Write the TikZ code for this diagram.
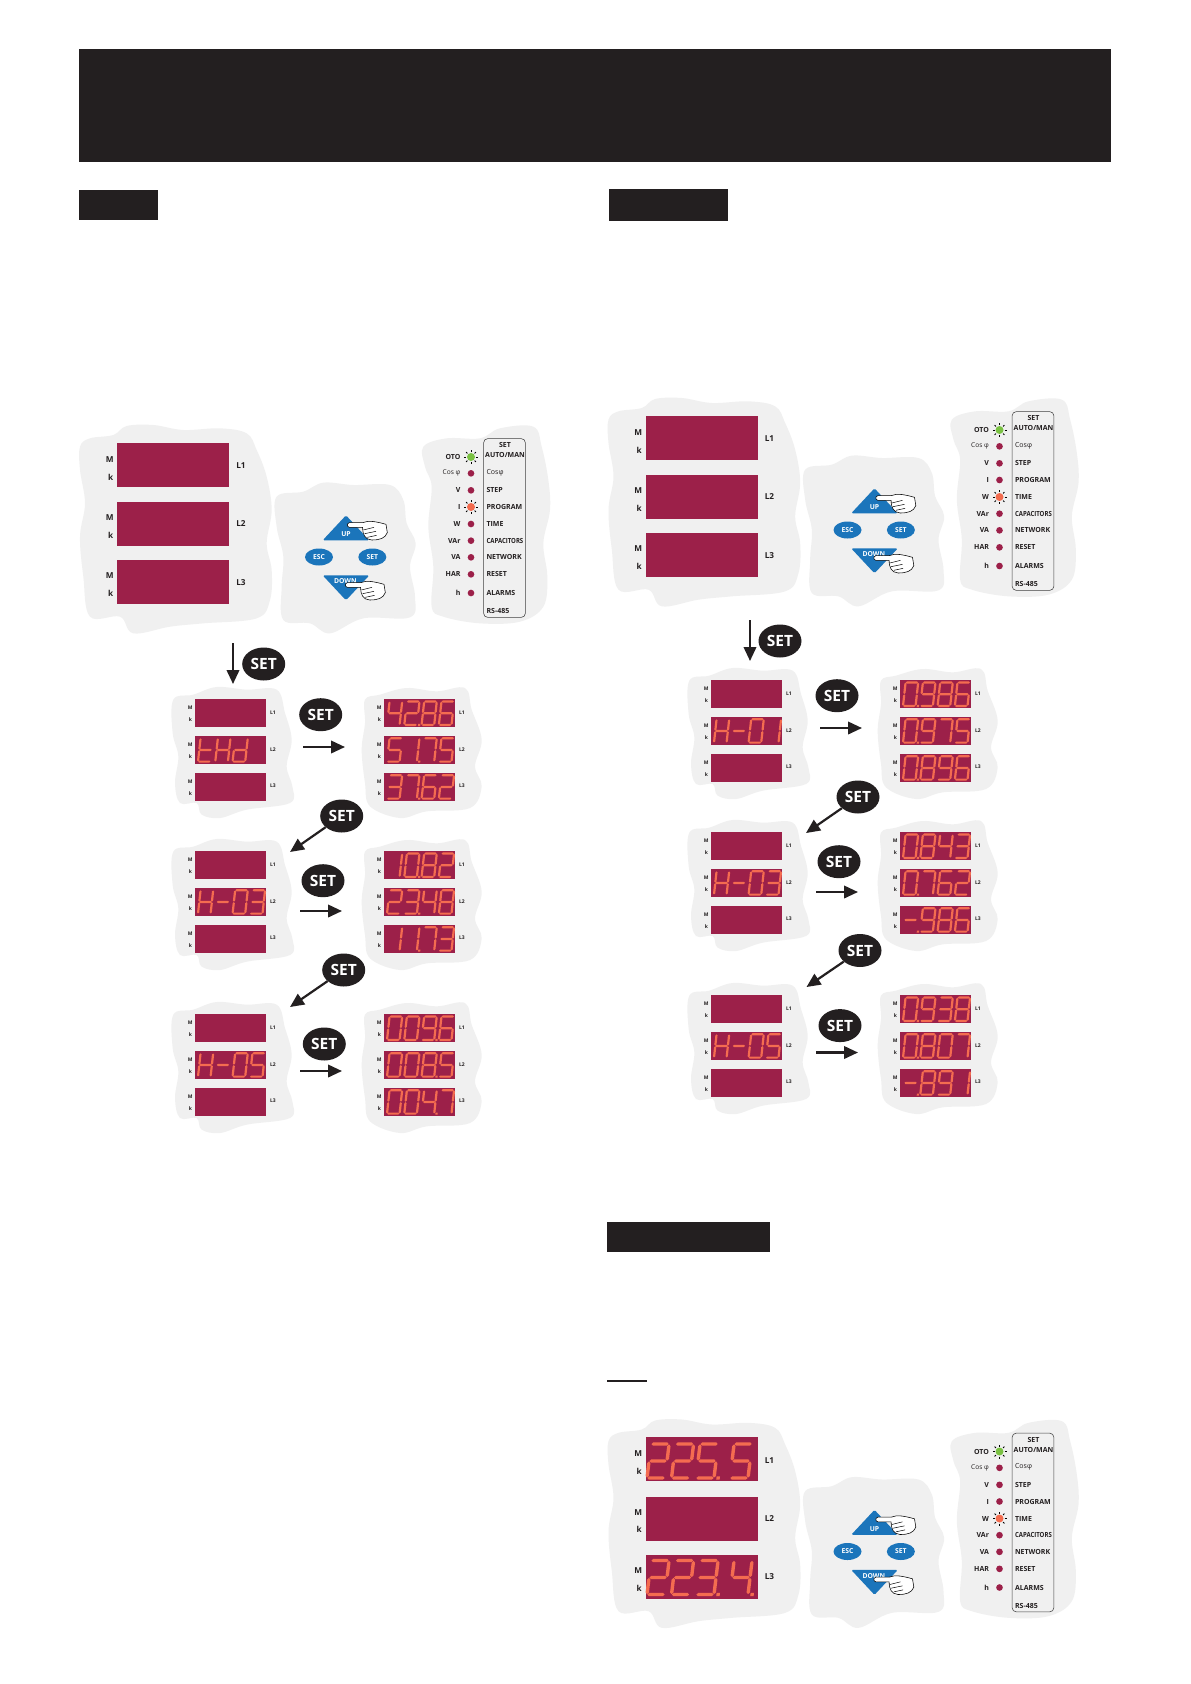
\documentclass[tikz,border=0pt]{standalone}
\usepackage{fontspec}
\setmainfont{Open Sans}
\newfontfamily\narrowlab[FakeStretch=0.86]{Open Sans}
\usetikzlibrary{shapes.geometric,arrows.meta}
\definecolor{blobgrey}{HTML}{F0F0F0}
\definecolor{crim}{HTML}{9C2049}
\definecolor{sevenseg}{HTML}{F46C50}
\definecolor{ink}{HTML}{231F20}
\definecolor{btnblue}{HTML}{1B75BB}
\definecolor{ledgreen}{HTML}{7AC143}
\definecolor{ledred}{HTML}{F26B4E}
\tikzset{
  blob/.style={fill=blobgrey},
  bar/.style={fill=ink,draw=none,inner sep=0pt,anchor=north west},
  dispbig/.style={fill=crim,draw=none,inner sep=0pt,anchor=north west,minimum width=112pt,minimum height=44pt},
  dispsmall/.style={fill=crim,draw=none,inner sep=0pt,anchor=north west,minimum width=71pt,minimum height=27.8pt},
  segfill/.style={fill=sevenseg,draw=none},
  setoval/.style={ellipse,fill=ink,text=white,inner sep=0pt,minimum width=43pt,minimum height=33pt,font=\fontsize{15.5}{16}\selectfont\bfseries},
  btn/.style={ellipse,fill=btnblue,text=white,inner sep=0pt,minimum width=28pt,minimum height=17pt,font=\fontsize{6.8}{7}\selectfont\bfseries},
  btnlab/.style={text=white,inner sep=0pt,font=\fontsize{6.8}{7}\selectfont\bfseries},
  biglab/.style={text=ink,inner sep=0pt,font=\fontsize{8.2}{9}\selectfont\bfseries},
  lab/.style={text=ink,inner sep=0pt,font=\fontsize{7}{8}\selectfont\bfseries},
  tinylab/.style={text=ink,inner sep=0pt,font=\fontsize{5}{5}\selectfont\bfseries},
  arr/.style={draw=ink,line width=2.2pt,-{Triangle[length=14pt,width=12.5pt]}},
  handfill/.style={fill=white,draw=black,line width=0.55pt,line join=round},
}
% seven segment drawing
\newcommand\hsg[3]{\fill[segfill] (#1+\sgG,#3) -- (#1+\sgG+\sgTh,#3-\sgTh) -- (#2-\sgG-\sgTh,#3-\sgTh) -- (#2-\sgG,#3) -- (#2-\sgG-\sgTh,#3+\sgTh) -- (#1+\sgG+\sgTh,#3+\sgTh) -- cycle;}
\newcommand\vsg[3]{\fill[segfill] (#1,#2+\sgG) -- (#1+\sgTh,#2+\sgG+\sgTh) -- (#1+\sgTh,#3-\sgG-\sgTh) -- (#1,#3-\sgG) -- (#1-\sgTh,#3-\sgG-\sgTh) -- (#1-\sgTh,#2+\sgG+\sgTh) -- cycle;}
\newcommand\sega{\hsg{0}{\sgW}{-\sgH}}
\newcommand\segg{\hsg{0}{\sgW}{-\sgM}}
\newcommand\segd{\hsg{0}{\sgW}{0}}
\newcommand\segf{\vsg{0}{-\sgH}{-\sgM}}
\newcommand\segb{\vsg{\sgW}{-\sgH}{-\sgM}}
\newcommand\sege{\vsg{0}{-\sgM}{0}}
\newcommand\segc{\vsg{\sgW}{-\sgM}{0}}
\newcommand\segnone{}
\newcommand\defdg[2]{\expandafter\def\csname dg#1\endcsname{#2}}
\defdg{0}{a,b,c,d,e,f}\defdg{1}{b,c}\defdg{2}{a,b,g,e,d}\defdg{3}{a,b,g,c,d}
\defdg{4}{f,g,b,c}\defdg{5}{a,f,g,c,d}\defdg{6}{a,f,g,e,c,d}\defdg{7}{a,b,c}
\defdg{8}{a,b,c,d,e,f,g}\defdg{9}{a,b,c,d,f,g}\defdg{-}{g}\defdg{H}{b,c,e,f,g}
\defdg{t}{f,e,g,d}\defdg{d}{b,c,d,e,g}\defdg{sp}{none}
% #1 x start, #2 baseline, #3 pitch, #4 list digit/dot
\newcommand\sevtext[4]{%
  \foreach \cc/\pp [count=\ii from 0] in {#4}{%
    \begin{scope}[shift={({#1+\ii*#3},#2)},xslant=\sgS]
      \edef\seglist{\csname dg\cc\endcsname}%
      \foreach \ss in \seglist {\csname seg\ss\endcsname}%
      \ifnum\pp=1 \fill[segfill] (\sgW+\sgD,\sgTh) rectangle (\sgW+\sgD+2*\sgTh,-\sgTh); \fi
    \end{scope}%
  }%
}
\newcommand\smallsegs{\def\sgW{12.6}\def\sgH{23.4}\def\sgM{11.7}\def\sgTh{1.1}\def\sgG{0.2}\def\sgS{0.11}\def\sgD{1.2}}
\newcommand\bigsegs{\def\sgW{18}\def\sgH{34}\def\sgM{17}\def\sgTh{1.7}\def\sgG{0.4}\def\sgS{0.12}\def\sgD{2.4}}
% big display panel
\newcommand\bigpanel[5]{%
\begin{scope}[shift={(70+#2,410+#3)},scale=1/3]
 \fill[blob] plot[smooth cycle,tension=0.6] coordinates {(30,110)(60,85)(130,75)(170,48)(250,45)(340,60)(450,55)(530,70)(560,120)(590,200)(605,300)(590,400)(605,480)(600,570)(560,625)(400,640)(300,650)(190,670)(150,620)(60,620)(40,500)(30,380)(45,280)(30,180)};
 \fill[blob] plot[smooth cycle,tension=0.6] coordinates {(620,260)(700,245)(760,218)(850,225)(960,225)(1000,270)(1010,340)(1037,400)(1020,470)(1035,560)(1020,622)(880,625)(780,670)(720,640)(640,630)(635,530)(640,440)(620,350)};
 \fill[blob] plot[smooth cycle,tension=0.6] coordinates {(1060,110)(1130,85)(1230,85)(1290,55)(1390,50)(1415,110)(1435,210)(1440,300)(1420,400)(1432,500)(1420,590)(1350,635)(1230,640)(1120,620)(1085,590)(1090,470)(1075,350)(1085,230)(1065,170)};
 \node[dispbig] (#1-d1) at (141,98) {};
 \node[dispbig] (#1-d2) at (141,276) {};
 \node[dispbig] (#1-d3) at (141,450) {};
 \foreach \mm/\kk/\ll/\ee/\nn in {148/201/167/L1/1,323/376/342/L2/2,498/551/517/L3/3}{
  \node[biglab] (#1-m\nn) at (119,\mm) {M};
  \node[biglab] (#1-k\nn) at (122,\kk) {k};
  \node[biglab] (#1-l\nn) at (513,\ll) {\ee};
 }
 \fill[btnblue,rounded corners=1.5pt] (758,391) -- (828,316) -- (898,391) -- cycle;
 \fill[btnblue,rounded corners=1.5pt] (758,496) -- (898,496) -- (828,571) -- cycle;
 \node[btn] (#1-esc) at (747,441) {ESC};
 \node[btn] (#1-set) at (907,441) {SET};
 \node[btnlab] (#1-up) at (828,373) {UP};
 \node[btnlab] (#1-down) at (826,514) {DOWN};
 \handshape{0}{0}\handshape{-6}{180}
 \draw[draw=black!75,line width=0.55pt,rounded corners=4pt] (1241,86) rectangle (1366,622);
 \foreach \lbl/\yy/\knd [count=\ii] in {OTO/141/1,{\fontsize{6.6}{7}\selectfont\mdseries Cos φ}/190/0,V/241/0,I/291/#4,W/342/#5,VAr/392/0,VA/442/0,HAR/493/0,h/549/0}{
  \node[lab,anchor=east] (#1-n\ii) at (1172,\yy) {\lbl};
  \ifnum\knd=0
    \fill[crim] (1203,\yy) circle[radius=10];
  \else
    \ifnum\knd=1 \fill[ledgreen] (1203,\yy) circle[radius=12];
    \else \fill[ledred] (1203,\yy) circle[radius=12]; \fi
    \foreach \aa in {0,45,...,315}{\draw[black,line width=0.8pt] (1203,\yy) ++(\aa:15) -- ++(\aa:6);}
  \fi
 }
 \node[lab] (#1-t0) at (1305,106) {SET};
 \node[lab] (#1-t1) at (1305,136) {AUTO/MAN};
 \node[lab,anchor=west,font=\fontsize{7}{8}\selectfont\mdseries] (#1-t2) at (1249,187) {Cosφ};
 \foreach \lbl/\yy [count=\ii from 3] in {STEP/241,PROGRAM/291,TIME/342,{\narrowlab CAPACITORS}/392,NETWORK/442,RESET/493,ALARMS/549,RS-485/604}{
  \node[lab,anchor=west] (#1-t\ii) at (1249,\yy) {\lbl};
 }
\end{scope}}
\newcommand\handshape[2]{%
 \begin{scope}[shift={(#1,#2)}]
 \filldraw[handfill] (838,338) -- (878,338) .. controls (895,330) and (920,335) .. (948,343) -- (952,368) .. controls (945,385) and (930,390) .. (905,390) .. controls (885,388) and (878,375) .. (878,352) -- (838,352) .. controls (830,350) and (830,340) .. (838,338) -- cycle;
 \draw[black,line width=0.5pt] (880,360) -- (912,352) (884,371) -- (918,364) (892,382) -- (920,376);
 \end{scope}}
% small panel: type, x, y, name, three lists
\newcommand\smallblobA{\fill[blob] plot[smooth cycle,tension=0.6] coordinates {(40,180)(100,165)(170,142)(260,150)(350,150)(375,220)(395,300)(380,380)(397,440)(390,490)(260,510)(180,535)(125,525)(110,490)(60,490)(45,430)(55,350)(38,280)};}
\newcommand\smallblobB{\fill[blob] plot[smooth cycle,tension=0.6] coordinates {(48,180)(93,165)(173,145)(263,155)(348,145)(368,210)(398,300)(378,380)(398,440)(363,505)(233,515)(153,535)(63,500)(48,430)(38,330)(48,250)};}
\newcommand\smallpanel[7]{%
\begin{scope}[shift={({#2-35},{#3-59.33})},scale=1/3]
 \csname smallblob#1\endcsname
\end{scope}
\node[dispsmall] (#4-d1) at (#2,#3) {};
\node[dispsmall] (#4-d2) at (#2,#3+36.7) {};
\node[dispsmall] (#4-d3) at (#2,#3+73.7) {};
\foreach \rr/\oo in {1/0,2/36.7,3/73.7}{
 \node[tinylab] (#4-m\rr) at (#2-4.7,#3+\oo+9) {M};
 \node[tinylab] (#4-k\rr) at (#2-4.7,#3+\oo+20.6) {k};
 \node[tinylab] (#4-l\rr) at (#2+78,#3+\oo+13.5) {L\rr};
}
\smallsegs
\sevtext{#2+3}{#3+25.9}{17.3}{#5}
\sevtext{#2+3}{#3+36.7+25.9}{17.3}{#6}
\sevtext{#2+3}{#3+73.7+25.9}{17.3}{#7}
}
\begin{document}
\begin{tikzpicture}[x=1pt,y=-1pt]
\path[use as bounding box,fill=white] (0,0) rectangle (1191,1684);
% header and section bars
\node[bar,minimum width=1032.5pt,minimum height=113pt] (hdr) at (78.5,49) {};
\node[bar,minimum width=79.5pt,minimum height=30pt] (b1) at (78.5,190) {};
\node[bar,minimum width=119pt,minimum height=32pt] (b2) at (609,189) {};
\node[bar,minimum width=163pt,minimum height=30pt] (b3) at (607,1222) {};
\coordinate (ula) at (607,1381);
\coordinate (ulb) at (646.5,1381);
\draw[ink,line width=1.1pt] (ula) -- (ulb);
% big panels
\bigpanel{p1}{0}{0}{2}{0}
\bigpanel{p2}{528.5}{-27}{0}{2}
\bigpanel{p3}{528.5}{994.5}{0}{2}
\bigsegs
\sevtext{647}{1478}{24.5}{2/0,2/0,5/1}
\sevtext{730}{1478}{24.5}{5/0}
\sevtext{647}{1594.5}{24.5}{2/0,2/0,3/1}
\sevtext{730}{1594.5}{24.5}{4/1}
% left column
\smallpanel{A}{195}{699}{a1}{sp/0}{t/0,H/0,d/0}{sp/0}
\smallpanel{B}{384}{699}{a2}{4/0,2/1,8/0,6/0}{5/0,1/1,7/0,5/0}{3/0,7/1,6/0,2/0}
\smallpanel{A}{195}{851}{a3}{sp/0}{H/0,-/0,0/0,3/0}{sp/0}
\smallpanel{B}{384}{851}{a4}{1/0,0/1,8/0,2/0}{2/0,3/1,4/0,8/0}{1/0,1/1,7/0,3/0}
\smallpanel{A}{195}{1014}{a5}{sp/0}{H/0,-/0,0/0,5/0}{sp/0}
\smallpanel{B}{384}{1014}{a6}{0/0,0/0,9/1,6/0}{0/0,0/0,8/1,5/0}{0/0,0/0,4/1,7/0}
% right column
\smallpanel{A}{711}{680}{c1}{sp/0}{H/0,-/0,0/0,1/0}{sp/0}
\smallpanel{B}{900}{680}{c2}{0/1,9/0,8/0,6/0}{0/1,9/0,7/0,5/0}{0/1,8/0,9/0,6/0}
\smallpanel{A}{711}{832}{c3}{sp/0}{H/0,-/0,0/0,3/0}{sp/0}
\smallpanel{B}{900}{832}{c4}{0/1,8/0,4/0,3/0}{0/1,7/0,6/0,2/0}{-/1,9/0,8/0,6/0}
\smallpanel{A}{711}{995}{c5}{sp/0}{H/0,-/0,0/0,5/0}{sp/0}
\smallpanel{B}{900}{995}{c6}{0/1,9/0,3/0,8/0}{0/1,8/0,0/0,7/0}{-/1,8/0,9/0,1/0}
% SET ovals
\node[setoval] (s0) at (263.7,664) {SET};
\node[setoval] (s1) at (320.7,714.7) {SET};
\node[setoval] (s2) at (341.7,816) {SET};
\node[setoval] (s3) at (323,880.7) {SET};
\node[setoval] (s4) at (343.7,970) {SET};
\node[setoval] (s5) at (324.3,1044) {SET};
\node[setoval] (r0) at (780,641) {SET};
\node[setoval] (r1) at (837,695.7) {SET};
\node[setoval] (r2) at (858,797) {SET};
\node[setoval] (r3) at (839,861.7) {SET};
\node[setoval] (r4) at (860,950.5) {SET};
\node[setoval] (r5) at (840,1025.6) {SET};
% arrows
\coordinate (a0s) at (233,643); \coordinate (a0e) at (233,684);
\coordinate (a1s) at (303,747); \coordinate (a1e) at (345,747);
\coordinate (a2e) at (290,852);
\coordinate (a3s) at (300,911); \coordinate (a3e) at (342,911);
\coordinate (a4e) at (290,1007);
\coordinate (a5s) at (300,1071); \coordinate (a5e) at (342,1071);
\coordinate (b0s) at (750,620); \coordinate (b0e) at (750,661);
\coordinate (b1s) at (820,728); \coordinate (b1e) at (862,728);
\coordinate (b2e) at (806,833);
\coordinate (b3s) at (816,892); \coordinate (b3e) at (858,892);
\coordinate (b4e) at (806.5,987);
\coordinate (b5s) at (816,1052.5); \coordinate (b5e) at (858,1052.5);
\draw[arr] (a0s) -- (a0e);
\draw[arr] (a1s) -- (a1e);
\draw[arr] (s2) -- (a2e);
\draw[arr] (a3s) -- (a3e);
\draw[arr] (s4) -- (a4e);
\draw[arr] (a5s) -- (a5e);
\draw[arr] (b0s) -- (b0e);
\draw[arr] (b1s) -- (b1e);
\draw[arr] (r2) -- (b2e);
\draw[arr] (b3s) -- (b3e);
\draw[arr] (r4) -- (b4e);
\draw[arr] (b5s) -- (b5e);
\end{tikzpicture}
\end{document}
